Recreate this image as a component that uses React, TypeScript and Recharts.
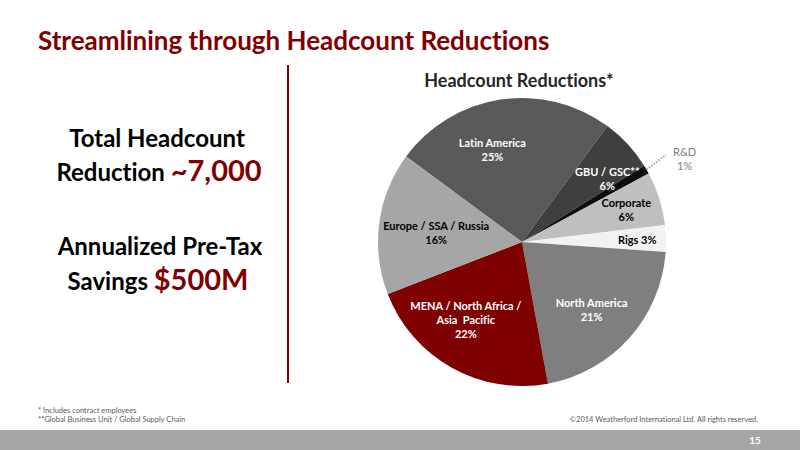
import React from "react";
import { PieChart, Pie, Cell } from "recharts";

// categories, clockwise from the Latin America slice
const categories = [
  "Latin America",
  "GBU / GSC**",
  "R&D",
  "Corporate",
  "Rigs",
  "North America",
  "MENA / North Africa / Asia  Pacific",
  "Europe / SSA / Russia",
];
const shares = [25, 6, 1, 6, 3, 21, 22, 16];

const sliceColors = ["#595959", "#3f3f3f", "#0d0d0d", "#bfbfbf", "#f2f2f2", "#7f7f7f", "#7f0000", "#a6a6a6"];
const labelColors = ["#ffffff", "#ffffff", "#7f7f7f", "#000000", "#000000", "#ffffff", "#ffffff", "#000000"];
// label placement: distance as share of radius, and a small turn off the mid angle (deg)
const labelRadius = [0.68, 0.74, 1.27, 0.76, 0.8, 0.67, 0.66, 0.6];
const labelTurn = [9, -6, -3, 0, 0, -2, -7, 1];

const pieData = categories.map((name, i) => ({ name, value: shares[i] }));

const RADIAN = Math.PI / 180;
const FONT = "Lato, 'Open Sans', sans-serif";
const RED = "#7f0000";

const labelLines = (name: string, value: number): string[] => {
  const pct = `${value}%`;
  if (name === "Rigs") return [`Rigs ${pct}`];
  if (name.startsWith("MENA")) return ["MENA / North Africa /", "Asia  Pacific", pct];
  return [name, pct];
};

const renderLabel = (props: any) => {
  const { cx, cy, midAngle, outerRadius, index, name, value } = props;
  const r = outerRadius * labelRadius[index];
  const a = (midAngle + labelTurn[index]) * RADIAN;
  const x = cx + r * Math.cos(-a);
  const y = cy + r * Math.sin(-a);
  const lines = labelLines(name, value);
  const top = y - ((lines.length - 1) * 14) / 2;
  const outside = labelRadius[index] > 1;
  let leader = null;
  if (outside) {
    const x1 = cx + outerRadius * Math.cos(-midAngle * RADIAN);
    const y1 = cy + outerRadius * Math.sin(-midAngle * RADIAN);
    const x2 = cx + outerRadius * 1.17 * Math.cos(-(midAngle + 1) * RADIAN);
    const y2 = cy + outerRadius * 1.17 * Math.sin(-(midAngle + 1) * RADIAN);
    leader = <line x1={x1} y1={y1} x2={x2} y2={y2} stroke="#a6a6a6" strokeWidth={2} strokeDasharray="1.5 1.5" />;
  }
  return (
    <g key={`lbl-${index}`}>
      {leader}
      <text
        x={x}
        y={top}
        textAnchor="middle"
        dominantBaseline="central"
        fill={labelColors[index]}
        fontFamily={FONT}
        fontSize={11}
        fontWeight={outside ? 400 : 700}
        style={{ fontVariantLigatures: "none" }}
      >
        {lines.map((ln, j) => (
          <tspan key={j} x={x} dy={j === 0 ? 0 : 14} style={{ whiteSpace: "pre" }}>
            {ln}
          </tspan>
        ))}
      </text>
    </g>
  );
};

export default function App() {
  return (
    <div style={{ position: "absolute", left: 0, top: 0, width: 800, height: 450, background: "#fff", overflow: "hidden" }}>
      <svg
        width={800}
        height={450}
        style={{ position: "absolute", left: 0, top: 0, fontVariantLigatures: "none" }}
        fontFamily={FONT}
      >
        <text x={38} y={50} fontSize={26} fontWeight={700} fill={RED}>
          Streamlining through Headcount Reductions
        </text>
        <line x1={288} y1={65} x2={288} y2={383} stroke={RED} strokeWidth={2} />

        <g fontWeight={700} textAnchor="middle">
          <text x={157} y={147} fontSize={24} fill="#000">Total Headcount</text>
          <text x={159} y={181} fontSize={24} fill="#000">
            Reduction <tspan fill={RED} fontSize={29}>~7,000</tspan>
          </text>
          <text x={160} y={255} fontSize={24} fill="#000">Annualized Pre-Tax</text>
          <text x={158} y={290} fontSize={24} fill="#000">
            Savings <tspan fill={RED} fontSize={29}>$500M</tspan>
          </text>
        </g>

        <text x={519} y={87} textAnchor="middle" fontSize={18} fontWeight={700} fill="#262626">
          Headcount Reductions*
        </text>

        <g fontSize={7.5} fill="#595959">
          <text x={38} y={413}>* Includes contract employees</text>
          <text x={38} y={422}>**Global Business Unit / Global Supply Chain</text>
          <text x={758} y={422} textAnchor="end">©2014 Weatherford International Ltd.  All rights reserved.</text>
        </g>

        <rect x={0} y={430} width={800} height={20} fill="#a6a6a6" />
        <text x={755} y={444} textAnchor="middle" fontSize={10} fontWeight={700} fill="#fff">15</text>
      </svg>

      <div style={{ position: "absolute", left: 0, top: 0 }}>
        <PieChart width={800} height={450} margin={{ top: 0, right: 0, bottom: 0, left: 0 }}>
          <Pie
            data={pieData}
            dataKey="value"
            nameKey="name"
            cx={522}
            cy={242}
            outerRadius={144}
            startAngle={143.6}
            endAngle={-216.4}
            stroke="none"
            label={renderLabel}
            labelLine={false}
            isAnimationActive={false}
          >
            {pieData.map((d, i) => (
              <Cell key={d.name} fill={sliceColors[i]} />
            ))}
          </Pie>
        </PieChart>
      </div>
    </div>
  );
}
